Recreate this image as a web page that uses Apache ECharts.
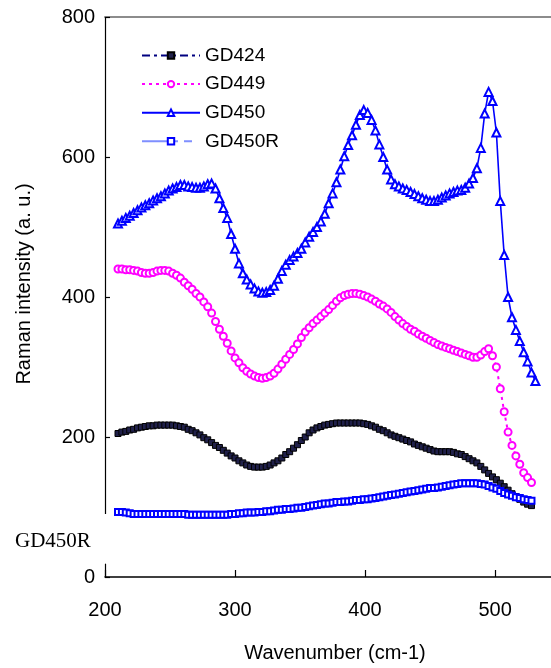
<!DOCTYPE html>
<html>
<head>
<meta charset="utf-8">
<title>Raman spectra</title>
<script src="https://cdn.jsdelivr.net/npm/echarts@6.0.0/dist/echarts.min.js"></script>
<style>
html, body { margin: 0; padding: 0; background: #fff; }
#chart { width: 551px; height: 668px; }
</style>
</head>
<body>
<div id="chart"></div>
<script>
// wavenumber (cm-1), sampled every 3 cm-1
const wavenumber = [
  210, 213, 216, 219, 222, 225, 228, 231, 234, 237,
  240, 243, 246, 249, 252, 255, 258, 261, 264, 267,
  270, 273, 276, 279, 282, 285, 288, 291, 294, 297,
  300, 303, 306, 309, 312, 315, 318, 321, 324, 327,
  330, 333, 336, 339, 342, 345, 348, 351, 354, 357,
  360, 363, 366, 369, 372, 375, 378, 381, 384, 387,
  390, 393, 396, 399, 402, 405, 408, 411, 414, 417,
  420, 423, 426, 429, 432, 435, 438, 441, 444, 447,
  450, 453, 456, 459, 462, 465, 468, 471, 474, 477,
  480, 483, 486, 489, 492, 495, 498, 501, 504, 507,
  510, 513, 516, 519, 522, 525, 528, 531,
]

const gd424 = [
  205, 207, 208, 210, 211, 213, 214, 215, 216, 216,
  217, 217, 217, 217, 217, 216, 215, 214, 211, 209,
  206, 203, 199, 196, 192, 188, 185, 181, 177, 173,
  170, 166, 163, 160, 158, 157, 157, 157, 158, 160,
  163, 166, 170, 175, 179, 184, 189, 195, 200, 206,
  210, 213, 215, 217, 218, 219, 220, 220, 220, 220,
  220, 220, 220, 219, 218, 216, 214, 211, 209, 206,
  203, 201, 199, 197, 195, 193, 190, 188, 186, 184,
  182, 180, 179, 179, 179, 179, 178, 176, 175, 172,
  169, 166, 163, 158, 153, 148, 143, 139, 134, 129,
  124, 119, 115, 111, 107, 104, 102,
]

const gd449 = [
  440, 440, 439, 439, 438, 437, 435, 434, 434, 435,
  437, 438, 438, 437, 434, 431, 427, 421, 416, 411,
  405, 400, 393, 386, 377, 365, 354, 344, 334, 323,
  313, 306, 299, 294, 290, 287, 285, 284, 285, 287,
  291, 297, 304, 311, 318, 325, 333, 342, 350, 356,
  362, 367, 372, 377, 382, 388, 394, 399, 402, 404,
  405, 405, 404, 402, 400, 397, 394, 390, 387, 383,
  378, 372, 367, 362, 358, 354, 351, 347, 344, 341,
  338, 335, 332, 330, 328, 326, 324, 322, 320, 318,
  316, 314, 314, 317, 322, 326, 316, 300, 269, 236,
  207, 188, 173, 161, 149, 142, 135,
]

const gd450 = [
  505, 509, 513, 516, 520, 524, 528, 531, 534, 538,
  541, 544, 548, 552, 555, 557, 560, 560, 558, 557,
  556, 556, 558, 561, 562, 555, 541, 527, 513, 490,
  469, 448, 434, 425, 418, 412, 408, 406, 407, 410,
  416, 426, 437, 446, 453, 458, 463, 469, 478, 486,
  493, 500, 508, 519, 534, 548, 564, 582, 601, 617,
  631, 646, 660, 667, 663, 653, 638, 618, 600, 582,
  568, 561, 558, 555, 553, 550, 547, 544, 541, 539,
  537, 537, 539, 542, 545, 548, 550, 552, 553, 556,
  562, 570, 584, 613, 662, 693, 680, 635, 537, 460,
  400, 371, 353, 337, 321, 308, 292, 280,
]

const gd450r = [
  93, 93, 92, 91, 90, 90, 90, 90, 90, 90,
  90, 90, 90, 90, 90, 90, 90, 90, 89, 89,
  89, 89, 89, 89, 89, 89, 89, 89, 89, 90,
  90, 91, 91, 92, 92, 92, 93, 93, 94, 94,
  95, 96, 96, 97, 97, 98, 99, 99, 100, 101,
  102, 103, 104, 105, 105, 106, 107, 107, 108, 108,
  109, 110, 110, 111, 111, 112, 113, 114, 115, 116,
  117, 118, 119, 120, 121, 122, 123, 124, 125, 126,
  127, 127, 128, 129, 130, 131, 132, 133, 134, 134,
  134, 134, 134, 133, 132, 130, 128, 126, 123, 120,
  118, 116, 114, 113, 111, 110, 109,
]

// y-axis line is drawn broken: [0, breakLow] and [breakHigh, 800]
const axisBreak = [19, 90]

const FONT = 'Arial, "Liberation Sans", sans-serif'

function pairs(ys) {
  return wavenumber.map((x, i) => [x, ys[i]]).filter((p) => p[1] != null)
}

function lineSeries(name, ys, symbol, size, itemStyle, lineStyle) {
  return {
    name,
    type: 'line',
    data: pairs(ys),
    symbol,
    symbolSize: size,
    showAllSymbol: true,
    itemStyle,
    lineStyle,
    emphasis: { disabled: true },
  }
}

const chart = echarts.init(document.getElementById('chart'))

const series = [
  lineSeries('GD424', gd424, 'rect', 6,
    { color: '#20204a', borderColor: '#000', borderWidth: 1 },
    { color: '#000080', width: 2, type: [8, 4, 3, 4] }),
  lineSeries('GD449', gd449, 'emptyCircle', 7,
    { color: '#ff00ff', borderWidth: 1.4 },
    { color: '#ff00ff', width: 2, type: [3, 4] }),
  lineSeries('GD450', gd450, 'emptyTriangle', 8,
    { color: '#0000ff', borderWidth: 1.4 },
    { color: '#0000ff', width: 1.6 }),
  lineSeries('GD450R', gd450r, 'emptyRect', 6,
    { color: '#0000ff', borderWidth: 1.6 },
    { color: '#7f8fff', width: 1, type: [36, 6, 8, 8] }),
]

// broken left axis line, placed in data coordinates
series[3].clip = false
series[3].markLine = {
  silent: true,
  symbol: ['none', 'none'],
  label: { show: false },
  emphasis: { disabled: true },
  lineStyle: { color: '#000', width: 1.2, type: 'solid' },
  data: [
    [{ coord: [200, axisBreak[1]] }, { coord: [200, 800] }],
    [{ coord: [200, 0] }, { coord: [200, axisBreak[0]] }],
  ],
}

chart.setOption({
  animation: false,
  backgroundColor: '#fff',
  grid: { left: 105, right: 0, top: 17, bottom: 90 },
  legend: {
    orient: 'vertical',
    left: 141,
    top: 46,
    padding: 0,
    itemWidth: 58,
    itemHeight: 8,
    itemGap: 9.6,
    textStyle: { color: '#000', fontSize: 19, fontFamily: FONT },
    data: ['GD424', 'GD449', 'GD450', 'GD450R'],
  },
  xAxis: [
    {
      type: 'value',
      min: 200,
      max: 543,
      interval: 100,
      name: 'Wavenumber (cm-1)',
      nameLocation: 'middle',
      nameGap: 66,
      nameTextStyle: { color: '#000', fontSize: 20, fontFamily: FONT, padding: [0, 0, 0, 14] },
      axisLine: { lineStyle: { color: '#000', width: 1.5 } },
      axisTick: { inside: true, length: 7, lineStyle: { color: '#000', width: 1.2 } },
      axisLabel: { color: '#000', fontSize: 20, fontFamily: FONT, margin: 23, showMaxLabel: false },
      splitLine: { show: false },
    },
    {
      type: 'value',
      position: 'top',
      min: 200,
      max: 543,
      axisLine: { lineStyle: { color: '#8c8c8c', width: 2 } },
      axisTick: { show: false },
      axisLabel: { show: false },
      splitLine: { show: false },
    },
  ],
  yAxis: {
    type: 'value',
    min: 0,
    max: 800,
    interval: 200,
    name: 'Raman intensity (a. u.)',
    nameLocation: 'middle',
    nameGap: 71,
    nameTextStyle: { color: '#000', fontSize: 20, fontFamily: FONT, padding: [0, 0, 0, 26] },
    axisLine: { show: false },
    axisTick: { inside: true, length: 5, lineStyle: { color: '#000', width: 1.2 } },
    axisLabel: { color: '#000', fontSize: 20, fontFamily: FONT, margin: 10 },
    splitLine: { show: false },
  },
  graphic: [
    {
      type: 'text',
      left: 15,
      top: 531,
      style: { text: 'GD450R', font: '21px "Liberation Serif", "Times New Roman", serif', fill: '#000' },
    },
  ],
  series,
})
</script>
</body>
</html>
